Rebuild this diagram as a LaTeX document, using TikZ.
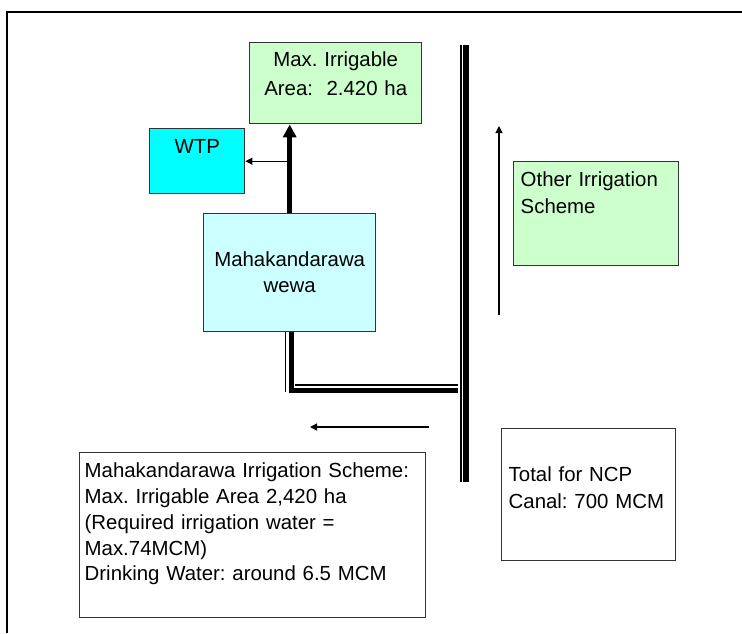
\documentclass[tikz,border=0pt]{standalone}
\usepackage{fontspec}
\setmainfont{Liberation Sans}
\usetikzlibrary{arrows.meta}
\usetikzlibrary{calc}
\frenchspacing

\definecolor{areagreen}{HTML}{CCFFCC}
\definecolor{lakecyan}{HTML}{CCFFFF}
\definecolor{wtpcyan}{HTML}{00FFFF}

\begin{document}
\begin{tikzpicture}[x=0.5pt, y=-0.5pt,
  box/.style={draw=black!80, line width=0.7pt, anchor=north west, inner ysep=0pt, inner xsep=2pt, font=\fontsize{10.2}{13.5}\selectfont},
  mainflow/.style={line width=2.5pt, -{Triangle[length=6.5pt,width=6.5pt]}},
  flow/.style={line width=0.65pt, -{Triangle[length=3.5pt,width=3.5pt]}},
  pipethin/.style={line width=0.7pt},
  pipethick/.style={line width=2.5pt}]

\useasboundingbox (0,0) rectangle (742,633);
\draw[line width=1pt] (742,12) -- (7,12) -- (7,633);

\node[box, fill=areagreen, text width=82pt, align=center, text height=12pt, text depth=28.5pt, font=\fontsize{10.2}{14.5}\selectfont] (maxarea) at (249,42) {Max. Irrigable\\Area:\ \ 2.420 ha};

\node[box, fill=wtpcyan, text width=43.5pt, align=center, text height=12.5pt, text depth=20pt] (wtp) at (149,128) {WTP};

\node[box, fill=lakecyan, text width=82pt, align=center, text height=26.5pt, text depth=32.5pt, font=\fontsize{10.2}{13}\selectfont] (lake) at (203,213) {Mahakandarawa\\wewa};

\node[box, fill=areagreen, inner xsep=3.5pt, text width=75.5pt, align=left, text height=12.5pt, text depth=39.5pt] (other) at (513,161) {Other Irrigation\\Scheme};

\node[box, inner xsep=3.5pt, text width=80pt, align=left, text height=26.5pt, text depth=39.5pt] (total) at (501,428) {Total for NCP\\Canal: 700 MCM};

\node[box, inner xsep=2.5pt, text width=168pt, align=left, text height=12.5pt, text depth=70pt, font=\fontsize{10.2}{12.9}\selectfont] (scheme) at (79,452) {Mahakandarawa Irrigation Scheme:\\Max. Irrigable Area 2,420 ha\\(Required irrigation water =\\Max.74MCM)\\Drinking Water: around 6.5 MCM};

\coordinate (canaltop) at (466,45);
\coordinate (canalbot) at (466,482);
\coordinate (branch) at (lake.north |- wtp.east);

\draw[line width=2.75pt] (canaltop) -- (canalbot);
\draw[pipethin] ([xshift=-2.5pt]canaltop) -- ([xshift=-2.5pt]canalbot);

\draw[pipethick] ([xshift=1pt]lake.south) |- (458,390.5);
\draw[pipethin] ([xshift=-2pt]lake.south) -- ++(0,60);
\draw[pipethin] (295,385) -- (458,385);

\draw[mainflow] (lake.north) -- (lake.north |- maxarea.south);
\draw[flow] (branch) -- (wtp.east);

\draw[flow] (429,427) -- (310,427);
\draw[flow] (499,315) -- (499,126);

\end{tikzpicture}
\end{document}
